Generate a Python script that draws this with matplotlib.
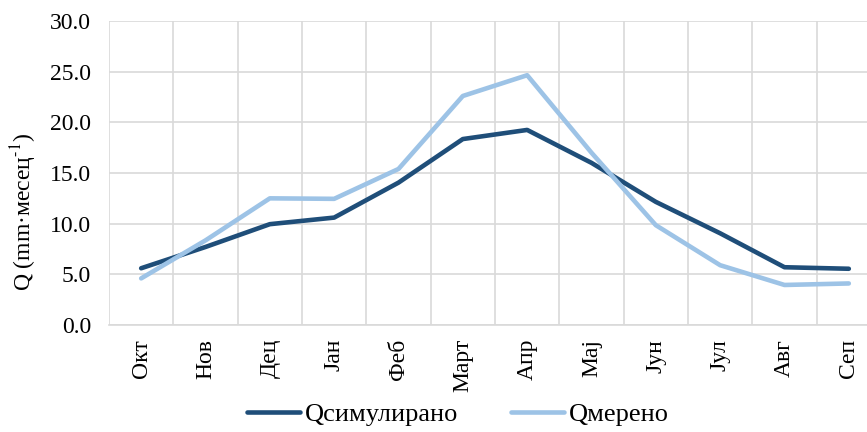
import numpy as np
import matplotlib.pyplot as plt
from matplotlib.ticker import FixedLocator

months = ["Окт", "Нов", "Дец", "Јан", "Феб", "Март", "Апр", "Мај", "Јун", "Јул", "Авг", "Сеп"]
q_sim = [5.6, 7.7, 9.95, 10.6, 14.05, 18.35, 19.25, 16.0, 12.15, 9.05, 5.7, 5.55]
q_mer = [4.6, 8.35, 12.5, 12.45, 15.4, 22.6, 24.65, 17.0, 9.85, 5.9, 3.95, 4.1]

plt.rcParams['font.family'] = ['Liberation Serif', 'DejaVu Serif']
plt.rcParams['mathtext.fontset'] = 'stix'
fs = 17

fig = plt.figure(figsize=(8.67, 4.32), dpi=100)
ax = fig.add_axes([109/867, 107/432, 772/867, 304/432])

x = np.arange(len(months))
ax.plot(x, q_sim, color='#1f4e79', lw=3.3, solid_capstyle='round', label='Qсимулирано')
ax.plot(x, q_mer, color='#9dc3e6', lw=3.3, solid_capstyle='round', label='Qмерено')

ax.set_xlim(-0.5, 11.5)
ax.set_ylim(0, 30)
ax.set_yticks(np.arange(0, 31, 5))
ax.set_yticklabels([f"{v:.1f}" for v in np.arange(0, 31, 5)], fontsize=fs)
ax.set_xticks(x)
ax.set_xticklabels(months, rotation=90, fontsize=fs)
ax.xaxis.set_minor_locator(FixedLocator(np.arange(-0.5, 12, 1)))
ax.tick_params(axis='both', which='both', length=0)
ax.tick_params(axis='x', pad=10)
ax.tick_params(axis='y', pad=13)
ax.grid(True, axis='y', which='major', color='#d9d9d9', lw=1.2)
ax.grid(True, axis='x', which='minor', color='#d9d9d9', lw=1.2)
ax.set_axisbelow(True)
for s in ax.spines.values():
    s.set_visible(False)
ax.spines['bottom'].set_visible(True)
ax.spines['bottom'].set_color('#d9d9d9')
ax.spines['bottom'].set_linewidth(1.2)

fig.text(24/867, 1 - 212/432, r"Q (mm·месец$^{\mathrm{\text{-}1}}$)", rotation=90, fontsize=fs,
         ha='center', va='center')

fig.legend(loc='center', bbox_to_anchor=(458/867, 1 - 414/432), ncol=2, frameon=False,
           fontsize=19, handlelength=2.0, columnspacing=2.0, handletextpad=0.2)

fig.savefig("out.png", dpi=100)
